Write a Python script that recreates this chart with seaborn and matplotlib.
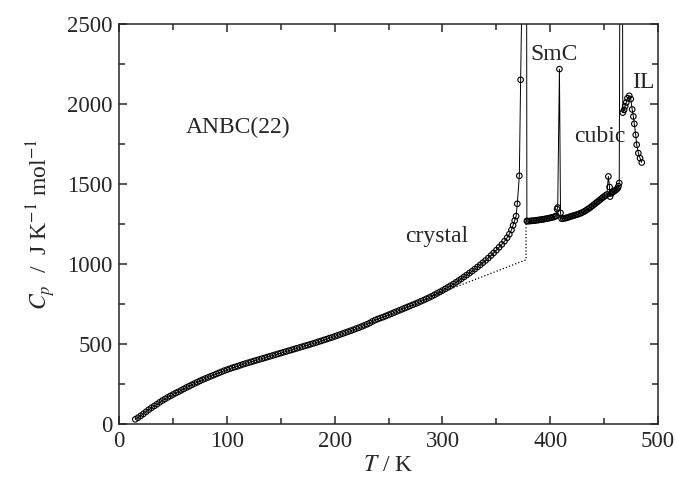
import seaborn as sns
import matplotlib.pyplot as plt
import matplotlib.ticker as mticker
import pandas as pd

# crystal phase up to the first big peak (SmC transition)
crystal_T = [15, 17.5, 20, 22.5, 25, 27.5, 30, 32.5, 35, 37.5, 40, 42.5, 45, 47.5, 50,
             52.5, 55, 57.5, 60, 62.5, 65, 67.5, 70, 72.5, 75, 77.5, 80, 82.5, 85, 87.5,
             90, 92.5, 95, 97.5, 100, 102.5, 105, 107.5, 110, 112.5, 115, 117.5, 120,
             122.5, 125, 127.5, 130, 132.5, 135, 137.5, 140, 142.5, 145, 147.5, 150,
             152.5, 155, 157.5, 160, 162.5, 165, 167.5, 170, 172.5, 175, 177.5, 180,
             182.5, 185, 187.5, 190, 192.5, 195, 197.5, 200, 202.5, 205, 207.5, 210,
             212.5, 215, 217.5, 220, 222.5, 225, 227.5, 230, 232.5, 235, 237.5, 240,
             242.5, 245, 247.5, 250, 252.5, 255, 257.5, 260, 262.5, 265, 267.5, 270,
             272.5, 275, 277.5, 280, 282.5, 285, 287.5, 290, 292.5, 295, 297.5, 300,
             302.5, 305, 307.5, 310, 312.5, 315, 317.5, 320, 322.5, 325, 327.5, 330,
             332.5, 335, 337.5, 340, 342.5, 345, 347.5, 350, 352.5, 355, 357.5, 360,
             362, 364, 365.5, 367, 368.3, 369.4, 371.3, 372.5, 377.8, 378.3]
crystal_cp = [28, 38, 50, 62, 75, 88, 100, 111, 122, 134, 145, 155, 165, 174, 183,
              192, 200, 209, 218, 227, 235, 244, 252, 260, 268, 276, 283, 290, 297, 304,
              311, 318, 325, 332, 338, 344, 350, 355, 360, 366, 372, 377, 382,
              387, 392, 397, 402, 407, 412, 417, 422, 427, 432, 437, 442,
              447, 452, 457, 462, 467, 472, 477, 482, 487, 492, 497, 502,
              507, 513, 518, 524, 529, 535, 540, 546, 552, 558, 564, 570,
              576, 582, 588, 595, 601, 608, 615, 622, 630, 640, 648, 655,
              661, 667, 674, 681, 688, 695, 702, 709, 716, 723, 730, 737,
              744, 751, 758, 766, 773, 781, 789, 797, 806, 815, 824, 833,
              843, 853, 863, 873, 884, 895, 906, 918, 930, 942, 954, 967,
              980, 993, 1007, 1021, 1036, 1052, 1068, 1085, 1103, 1121, 1141, 1163,
              1185, 1212, 1240, 1270, 1298, 1375, 1550, 2150, 4500, 1268]

# SmC phase and the cubic peak
smc_T = [379, 380.5, 382, 383.5, 385, 386.5, 388, 389.5, 391, 392.5, 394, 395.5, 397,
         398.5, 400, 401.5, 403, 404.5, 405.5, 406.3, 406.9, 408.5, 409.5]
smc_cp = [1266, 1267, 1268, 1269, 1270, 1271, 1273, 1274, 1276, 1277, 1279, 1281, 1283,
          1285, 1287, 1290, 1292, 1296, 1300, 1342, 1352, 2217, 1318]

# cubic phase and the clearing peak
cubic_T = [410.5, 412, 413.5, 415, 416.5, 418, 419.5, 421, 422.5, 424, 425.5, 427, 428.5,
           430, 431.5, 433, 434.5, 436, 437.5, 439, 440.5, 442, 443.5, 445, 446.5, 448,
           449.5, 451, 452.5, 453.9, 455, 455.5, 456.5, 457.5, 458.5, 459.5, 460.5,
           461.5, 462.5, 463.3, 464, 466]
cubic_cp = [1282, 1283, 1285, 1287, 1290, 1294, 1297, 1300, 1303, 1306, 1309, 1313, 1317,
            1322, 1327, 1333, 1340, 1347, 1354, 1362, 1370, 1378, 1386, 1394, 1402, 1410,
            1418, 1426, 1433, 1546, 1480, 1420, 1440, 1445, 1450, 1455, 1460,
            1466, 1472, 1485, 1505, 6000]

# isotropic liquid
il_T = [467.3, 468.5, 469.5, 470.5, 471.6, 473.3, 474.7, 476, 477.1, 478, 479.3, 480.2,
        481.7, 483.3, 484.9]
il_cp = [1945, 1962, 1985, 2008, 2035, 2050, 2030, 1965, 1921, 1875, 1806, 1744,
         1692, 1660, 1633]

# dotted baseline under the crystal anomaly
base_T = [290, 377.5, 377.5]
base_cp = [797, 1025, 1265]

labels = ['ANBC(22)', 'crystal', 'SmC', 'cubic', 'IL']
label_T = [62, 265, 382, 422, 476]
label_cp = [1820, 1137, 2275, 1762, 2100]

df = pd.DataFrame({'T': crystal_T + smc_T + cubic_T + il_T,
                   'Cp': crystal_cp + smc_cp + cubic_cp + il_cp})

sns.set_style('ticks')
plt.rcParams['font.family'] = ['Liberation Serif', 'DejaVu Serif']
plt.rcParams['mathtext.fontset'] = 'stix'
plt.rcParams['axes.linewidth'] = 1.1

fig, ax = plt.subplots(figsize=(6.77, 4.86), dpi=100)
fig.subplots_adjust(left=0.176, right=0.972, bottom=0.128, top=0.951)

sns.lineplot(data=df, x='T', y='Cp', sort=False, estimator=None, color='black',
             linewidth=0.7, ax=ax)
sns.scatterplot(data=df, x='T', y='Cp', marker='o', s=16, facecolors='none',
                edgecolor='black', linewidth=0.8, ax=ax, zorder=3)
ax.plot(base_T, base_cp, color='black', linestyle=':', linewidth=0.9)

for txt, tx, ty in zip(labels, label_T, label_cp):
    ax.text(tx, ty, txt, fontsize=17, ha='left', va='baseline')

ax.set_xlim(0, 500)
ax.set_ylim(0, 2500)
ax.xaxis.set_major_locator(mticker.MultipleLocator(100))
ax.xaxis.set_minor_locator(mticker.MultipleLocator(50))
ax.yaxis.set_major_locator(mticker.MultipleLocator(500))
ax.yaxis.set_minor_locator(mticker.MultipleLocator(250))
ax.tick_params(which='both', direction='in', top=True, right=True, labelsize=16.5,
               width=1.1, pad=5)
ax.tick_params(which='major', length=6)
ax.tick_params(which='minor', length=4)

ax.set_xlabel(r'$T$ / K', fontsize=17, labelpad=2)
ax.set_ylabel(r'$C_p$  /  J K$^{-1}$ mol$^{-1}$', fontsize=17, labelpad=6)

fig.savefig('out.png', dpi=100)
